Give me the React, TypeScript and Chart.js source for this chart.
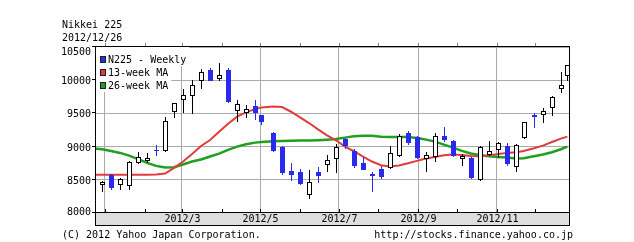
import React, { useEffect, useRef } from "react";
import { Chart, registerables } from "chart.js";

Chart.register(...registerables);

// ---- data ----
const weekDates = [
  "2011-12-30", "2012-01-06", "2012-01-13", "2012-01-20", "2012-01-27",
  "2012-02-03", "2012-02-10", "2012-02-17", "2012-02-24", "2012-03-02",
  "2012-03-09", "2012-03-16", "2012-03-23", "2012-03-30", "2012-04-06",
  "2012-04-13", "2012-04-20", "2012-04-27", "2012-05-02", "2012-05-11",
  "2012-05-18", "2012-05-25", "2012-06-01", "2012-06-08", "2012-06-15",
  "2012-06-22", "2012-06-29", "2012-07-06", "2012-07-13", "2012-07-20",
  "2012-07-27", "2012-08-03", "2012-08-10", "2012-08-17", "2012-08-24",
  "2012-08-31", "2012-09-07", "2012-09-14", "2012-09-21", "2012-09-28",
  "2012-10-05", "2012-10-12", "2012-10-19", "2012-10-26", "2012-11-02",
  "2012-11-09", "2012-11-16", "2012-11-22", "2012-11-30", "2012-12-07",
  "2012-12-14", "2012-12-21", "2012-12-26",
];
const opens = [
  8450, 8565, 8440, 8420, 8770, 8800, 8950, 8950, 9540, 9720,
  9770, 10010, 10150, 10030, 10160, 9555, 9525, 9610, 9475, 9205,
  9000, 8630, 8615, 8280, 8620, 8740, 8835, 9115, 8930, 8755,
  8590, 8665, 8690, 8875, 9205, 9150, 8835, 8855, 9160, 9080,
  8830, 8835, 8515, 8885, 8960, 9005, 8705, 9140, 9470, 9485,
  9590, 9885, 10080,
];
const highs = [
  8475, 8590, 8520, 8780, 8915, 8900, 9025, 9450, 9655, 9865,
  10000, 10165, 10180, 10255, 10190, 9700, 9620, 9700, 9480, 9220,
  9015, 8755, 8665, 8655, 8690, 8880, 9045, 9135, 8965, 8840,
  8620, 8710, 9005, 9190, 9230, 9160, 8915, 9200, 9300, 9100,
  8890, 8850, 9015, 9080, 9065, 9050, 9040, 9370, 9500, 9575,
  9765, 10125, 10235,
];
const lows = [
  8330, 8355, 8355, 8360, 8755, 8765, 8880, 8940, 9440, 9515,
  9505, 9890, 10000, 10000, 9665, 9390, 9450, 9415, 9340, 8940,
  8590, 8490, 8440, 8230, 8465, 8630, 8620, 8980, 8700, 8665,
  8330, 8525, 8680, 8865, 9045, 8835, 8640, 8780, 9080, 8860,
  8730, 8525, 8500, 8875, 8840, 8730, 8630, 9125, 9300, 9375,
  9480, 9825, 10010,
];
const closes = [
  8460, 8390, 8515, 8765, 8840, 8835, 8945, 9380, 9650, 9775,
  9930, 10130, 10010, 10085, 9690, 9635, 9560, 9520, 9380, 8955,
  8610, 8580, 8445, 8460, 8570, 8800, 9000, 9020, 8725, 8670,
  8570, 8555, 8905, 9165, 9070, 8840, 8870, 9160, 9110, 8870,
  8865, 8535, 9000, 8935, 9050, 8760, 9025, 9365, 9460, 9530,
  9740, 9930, 10230,
];
const maDates = ["2011-12-22", ...weekDates];
const ma13 = [
  8575, 8575, 8575, 8575, 8575, 8575, 8575, 8580, 8595, 8680,
  8775, 8890, 9010, 9100, 9225, 9345, 9450, 9515, 9565, 9590,
  9605, 9595, 9525, 9440, 9355, 9260, 9170, 9095, 9000, 8930,
  8850, 8775, 8720, 8700, 8715, 8750, 8785, 8820, 8845, 8870,
  8880, 8875, 8860, 8855, 8865, 8890, 8905, 8915, 8935, 8975,
  9015, 9070, 9120, 9150,
];
const ma26 = [
  8975, 8960, 8935, 8905, 8865, 8810, 8755, 8710, 8685, 8690,
  8730, 8775, 8805, 8850, 8895, 8950, 9000, 9035, 9060, 9070,
  9080, 9085, 9088, 9090, 9092, 9097, 9105, 9115, 9135, 9155,
  9165, 9165, 9150, 9145, 9145, 9145, 9130, 9105, 9075, 9030,
  8985, 8935, 8895, 8870, 8855, 8845, 8835, 8820, 8825, 8855,
  8880, 8915, 8960, 9000,
];
const monthStarts = [
  "2012-01-01", "2012-02-01", "2012-03-01", "2012-04-01", "2012-05-01", "2012-06-01",
  "2012-07-01", "2012-08-01", "2012-09-01", "2012-10-01", "2012-11-01", "2012-12-01",
];
const gridMonthStarts = ["2012-01-01", "2012-03-01", "2012-05-01", "2012-07-01", "2012-09-01", "2012-11-01"];
const axisLabelDates = ["2012-03-01", "2012-05-01", "2012-07-01", "2012-09-01", "2012-11-01"];
const axisLabels = ["2012/3", "2012/5", "2012/7", "2012/9", "2012/11"];
const yTicks = [8000, 8500, 9000, 9500, 10000, 10500];
const titleLines = ["Nikkei 225", "2012/12/26"];
const legendLabels = ["N225 - Weekly", "13-week MA", "26-week MA"];
const footerLeft = "(C) 2012 Yahoo Japan Corporation.";
const footerRight = "http://stocks.finance.yahoo.co.jp";

// ---- style ----
const DOWN = "#2a2aee";
const RED = "#e03c3c";
const GREEN = "#1ea01e";
const GRID = "#aaaaaa";
const BAND = "#dedede";
const FONT = "10px 'DejaVu Sans Mono', monospace";
const legendColors = [DOWN, RED, GREEN];

const DAY = 86400000;
const EPOCH = Date.UTC(2012, 0, 1);
const toDay = (s: string) => (Date.parse(s + "T00:00:00Z") - EPOCH) / DAY;
const X_MIN = -7.55;
const X_MAX = 361.3;
const gridSet = new Set(gridMonthStarts.map(toDay));

const overlay = {
  id: "overlay",
  beforeDraw(chart: any) {
    const c = chart.ctx;
    c.save();
    c.fillStyle = "#ffffff";
    c.fillRect(0, 0, chart.width, chart.height);
    c.restore();
  },
  afterDatasetsDraw(chart: any) {
    const ctx = chart.ctx;
    const xs = chart.scales.x;
    const ys = chart.scales.y;
    const ca = chart.chartArea;
    ctx.save();
    ctx.beginPath();
    ctx.rect(ca.left, ca.top, ca.right - ca.left, ca.bottom - ca.top);
    ctx.clip();
    weekDates.forEach((d, i) => {
      const x = Math.round(xs.getPixelForValue(toDay(d)));
      const up = closes[i] >= opens[i];
      const yH = Math.round(ys.getPixelForValue(highs[i]));
      const yL = Math.round(ys.getPixelForValue(lows[i]));
      const yT = Math.round(ys.getPixelForValue(Math.max(opens[i], closes[i])));
      const yB = Math.round(ys.getPixelForValue(Math.min(opens[i], closes[i])));
      ctx.fillStyle = up ? "#000000" : DOWN;
      ctx.fillRect(x, yH, 1, yL - yH + 1);
      if (up) {
        const h = Math.max(yB - yT, 2);
        ctx.fillStyle = "#000000";
        ctx.fillRect(x - 2, yT, 5, h + 1);
        ctx.fillStyle = "#ffffff";
        ctx.fillRect(x - 1, yT + 1, 3, h - 1);
      } else {
        ctx.fillStyle = DOWN;
        ctx.fillRect(x - 2, yT, 5, Math.max(yB - yT, 0) + 1);
      }
    });
    ctx.restore();
  },
  afterDraw(chart: any) {
    const ctx = chart.ctx;
    const xs = chart.scales.x;
    const ys = chart.scales.y;
    const ca = chart.chartArea;
    const L = Math.round(ca.left);
    const R = Math.round(ca.right);
    const T = Math.round(ca.top) - 1;
    const B = Math.round(ca.bottom) - 1;
    ctx.save();
    ctx.font = FONT;
    // legend
    legendLabels.forEach((lab, i) => {
      const base = T + 17 + 13 * i;
      const w = ctx.measureText(lab).width;
      ctx.fillStyle = "#ffffff";
      const top = i === 0 ? T + 1 : base - 10;
      ctx.fillRect(L + 1, top, 13 + w + 2, base + 3 - top);
      ctx.fillStyle = legendColors[i];
      ctx.fillRect(L + 5, base - 7, 6, 7);
      ctx.strokeStyle = "#202020";
      ctx.lineWidth = 1;
      ctx.strokeRect(L + 5.5, base - 6.5, 5, 6);
      ctx.fillStyle = "#000000";
      ctx.textAlign = "left";
      ctx.textBaseline = "alphabetic";
      ctx.fillText(lab, L + 13, base);
    });
    // plot border
    ctx.strokeStyle = "#000000";
    ctx.lineWidth = 1;
    ctx.strokeRect(L + 0.5, T + 0.5, R - L, B - T);
    // band
    ctx.fillStyle = BAND;
    ctx.fillRect(L + 1, B + 1, R - L - 1, 12);
    ctx.strokeRect(L + 0.5, B + 0.5, R - L, 13);
    // month ticks
    monthStarts.forEach((m) => {
      const x = Math.round(xs.getPixelForValue(toDay(m)));
      ctx.fillStyle = "#808080";
      ctx.fillRect(x, T - 3, 1, 3);
      ctx.fillStyle = "#000000";
      ctx.fillRect(x, B - 3, 1, 3);
    });
    // axis labels
    ctx.fillStyle = "#000000";
    ctx.textAlign = "center";
    axisLabels.forEach((lab, i) => {
      const x = xs.getPixelForValue(toDay(axisLabelDates[i]));
      ctx.fillText(lab, Math.round(x) + 0.5, B + 10);
    });
    // y ticks & labels
    ctx.textAlign = "right";
    yTicks.forEach((v) => {
      const gy = ys.getPixelForValue(v);
      ctx.fillRect(L - 3, Math.round(gy) - 1, 3, 1);
      const cy = Math.min(Math.max(gy + 0.5, T + 5), B - 1);
      ctx.fillText(String(v), L - 4, Math.round(cy + 3.5));
    });
    // title
    ctx.textAlign = "left";
    ctx.fillText(titleLines[0], 62, 28);
    ctx.fillText(titleLines[1], 62, 41);
    // footer
    ctx.fillText(footerLeft, 62, 238);
    ctx.textAlign = "right";
    ctx.fillText(footerRight, 573, 238);
    ctx.restore();
  },
};

export default function App() {
  const ref = useRef<HTMLCanvasElement>(null);
  useEffect(() => {
    document.body.style.margin = "0";
    const canvas = ref.current;
    if (!canvas) return;
    const chart = new Chart(canvas, {
      type: "line",
      data: {
        datasets: [
          {
            label: "13-week MA",
            data: maDates.map((d, i) => ({ x: toDay(d), y: ma13[i] })),
            borderColor: RED,
            borderWidth: 2,
            pointRadius: 0,
            tension: 0,
            clip: 0,
          },
          {
            label: "26-week MA",
            data: maDates.map((d, i) => ({ x: toDay(d), y: ma26[i] })),
            borderColor: GREEN,
            borderWidth: 2.5,
            pointRadius: 0,
            tension: 0,
            clip: 0,
          },
        ],
      },
      options: {
        responsive: false,
        animation: false,
        devicePixelRatio: 1,
        layout: { padding: { left: 95, right: 65, top: 47, bottom: 29 } },
        plugins: {
          legend: { display: false },
          tooltip: { enabled: false },
          title: { display: false },
        },
        scales: {
          x: {
            type: "linear",
            min: X_MIN,
            max: X_MAX,
            afterBuildTicks: (s: any) => {
              s.ticks = monthStarts.map((m) => ({ value: toDay(m) }));
            },
            ticks: { display: false },
            grid: {
              color: (c: any) => (c.tick && gridSet.has(c.tick.value) ? GRID : "rgba(0,0,0,0)"),
              drawTicks: false,
              lineWidth: 1,
            },
            border: { display: false },
          },
          y: {
            type: "linear",
            min: 8000,
            max: 10500,
            afterBuildTicks: (s: any) => {
              s.ticks = yTicks.map((v) => ({ value: v }));
            },
            ticks: { display: false },
            grid: { color: GRID, drawTicks: false, lineWidth: 1 },
            border: { display: false },
          },
        },
      },
      plugins: [overlay],
    } as any);
    return () => chart.destroy();
  }, []);
  return (
    <div style={{ width: 634, height: 242 }}>
      <canvas ref={ref} width={634} height={242} style={{ display: "block" }} />
    </div>
  );
}
